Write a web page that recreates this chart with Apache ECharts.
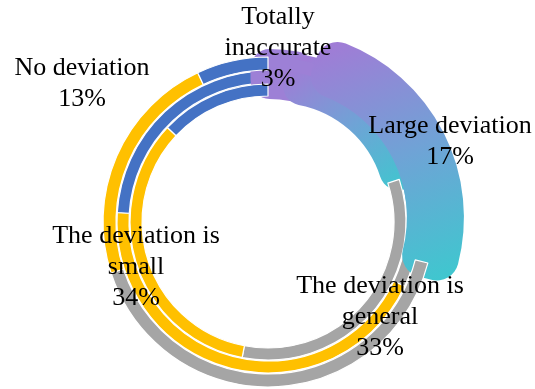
<!DOCTYPE html>
<html>
<head>
<meta charset="utf-8">
<script src="https://cdn.jsdelivr.net/npm/echarts@6/dist/echarts.min.js"></script>
<style>
html, body { margin: 0; padding: 0; background: #fff; }
#chart { width: 535px; height: 389px; }
</style>
</head>
<body>
<div id="chart"></div>
<script>
var categories = ['Totally inaccurate', 'Large deviation', 'The deviation is general', 'The deviation is small', 'No deviation'];
var labelText = ['Totally\ninaccurate', 'Large deviation', 'The deviation is\ngeneral', 'The deviation is\nsmall', 'No deviation'];
// inner ring carries the labels
var innerValues = [3, 17, 33, 34, 13];
var middleValues = [4, 23, 5, 44, 24];
var outerValues = [6, 23, 41, 23, 7];
var colors = ['#9d80d6', null, '#a5a5a5', '#ffc000', '#4472c4'];
var labelPos = [[278, 48], [450, 142], [380, 317], [136, 267], [82, 84]];

function grad() {
	return new echarts.graphic.LinearGradient(0.2, 0, 0.8, 1, [
		{ offset : 0, color : '#a07cd6' },
		{ offset : 0.5, color : '#6fa3d6' },
		{ offset : 1, color : '#40c6cf' }
	]);
}

// blobItems: which items get the thick rounded "exploded" look
function ring(name, values, radius, blob, blobItems, offset) {
	var data = [];
	for (var i = 0; i < values.length; i++) {
		var item = {
			name : categories[i],
			value : values[i],
			itemStyle : { color : i == 1 ? grad() : colors[i] }
		};
		if (i == 0 && blobItems.indexOf(0) == -1) {
			item.itemStyle.borderWidth = 0;
		}
		if (blob && blobItems.indexOf(i) > -1) {
			item.selected = true;
			item.itemStyle.borderColor = i == 1 ? grad() : colors[0];
			item.itemStyle.borderWidth = blob;
			item.itemStyle.borderJoin = 'round';
		}
		data.push(item);
	}
	return {
		type : 'pie',
		name : name,
		center : [ 268, 222 ],
		radius : radius,
		startAngle : 90,
		clockwise : true,
		selectedMode : 'multiple',
		selectedOffset : offset,
		silent : true,
		label : { show : false },
		labelLine : { show : false },
		itemStyle : { borderColor : '#fff', borderWidth : 1.2 },
		emphasis : { disabled : true },
		data : data
	};
}

var chart = echarts.init(document.getElementById('chart'));
var labelSeries = {
	type : 'pie',
	center : [ 268, 222 ],
	radius : [ 126, 138 ],
	startAngle : 90,
	silent : true,
	itemStyle : { color : 'rgba(0,0,0,0)' },
	labelLine : { show : false },
	label : {
		show : true,
		position : 'outside',
		alignTo : 'none',
		overflow : 'none',
		fontFamily : 'Liberation Serif',
		fontSize : 26,
		lineHeight : 31,
		color : '#000',
		formatter : function(p) {
			return labelText[p.dataIndex] + '\n' + p.value + '%';
		}
	},
	labelLayout : function(params) {
		var p = labelPos[params.dataIndex];
		return { x : p[0], y : p[1], align : 'center', verticalAlign : 'middle' };
	},
	emphasis : { disabled : true },
	data : innerValues.map(function(v, i) {
		return { name : categories[i], value : v };
	})
};

chart.setOption({
	animation : false,
	series : [
		ring('middle', middleValues, [ 139, 151 ], 0, [], 0),
		ring('inner', innerValues, [ 126, 138 ], 38, [ 0, 1 ], 16),
		ring('outer', outerValues, [ 152, 165 ], 44, [ 1 ], 10),
		labelSeries
	]
});
</script>
</body>
</html>
